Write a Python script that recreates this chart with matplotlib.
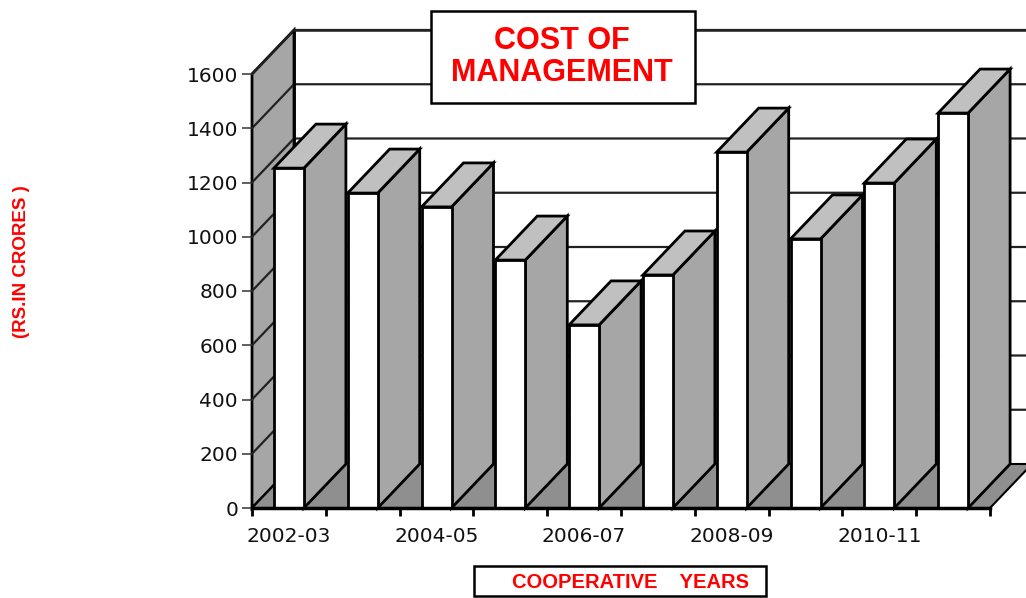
import matplotlib
matplotlib.use('Agg')
import matplotlib.pyplot as plt

years = ['2002-03', '2003-04', '2004-05', '2005-06', '2006-07',
         '2007-08', '2008-09', '2009-10', '2010-11', '2011-12']
cost = [1253, 1161, 1110, 914, 675, 859, 1312, 992, 1198, 1456]
y_ticks = [0, 200, 400, 600, 800, 1000, 1200, 1400, 1600]

W, H = 1026, 598
fig = plt.figure(figsize=(W/100, H/100), dpi=100)
# plot box in pixels: x 252-990, y 74-508
ax = fig.add_axes([252/W, 1-508/H, 738/W, 434/H])
ax.set_xlim(0, len(years))
ax.set_ylim(0, 1600)
for s in ax.spines.values():
    s.set_visible(False)
ax.patch.set_visible(False)

# 3d depth in data units
dx = 42/73.8
dy = 44/(434/1600)
n = len(years)
bar_w = 30/73.8
LW = 2.0

# left wall
ax.fill([0, dx, dx, 0], [0, dy, 1600+dy, 1600], fc='#a6a6a6', ec='black', lw=LW, clip_on=False, zorder=1)
# floor
ax.fill([0, dx, n+dx, n], [0, dy, dy, 0], fc='#8f8f8f', ec='black', lw=1.5, clip_on=False, zorder=1)
# grid on walls
for v in y_ticks[1:]:
    ax.plot([0, dx, n+dx], [v, v+dy, v+dy], color='#222222', lw=1.6, clip_on=False, zorder=2)
ax.plot([dx, dx], [dy, 1600+dy], color='black', lw=LW, clip_on=False, zorder=2)
ax.plot([dx, n+dx], [1600+dy, 1600+dy], color='#222222', lw=1.8, clip_on=False, zorder=2)

# bars
for i, v in enumerate(cost):
    left = i + 0.5 - bar_w/2
    right = left + bar_w
    z = 3 + i
    ax.fill([right, right+dx, right+dx, right], [0, dy, v+dy, v], fc='#a6a6a6', ec='black', lw=LW, clip_on=False, zorder=z, joinstyle='miter')
    ax.fill([left, left+dx, right+dx, right], [v, v+dy, v+dy, v], fc='#c0c0c0', ec='black', lw=LW, clip_on=False, zorder=z)
    ax.bar(i+0.5, v, width=bar_w, color='white', edgecolor='black', lw=LW, clip_on=False, zorder=z+0.5)

# axes lines and ticks
ax.plot([0, n], [0, 0], color='black', lw=2.5, clip_on=False, zorder=20)
ax.set_yticks(y_ticks)
ax.tick_params(axis='y', length=7, width=1.2, color='#444444', labelsize=14.5, pad=3, labelcolor='#111111')
ax.set_xticks(range(n+1))
ax.set_xticklabels([])
ax.tick_params(axis='x', which='major', length=6, width=2, color='black')
ax.set_xticks([i+0.5 for i in range(0, n, 2)], minor=True)
ax.set_xticklabels(years[0::2], minor=True, fontsize=14.5, color='#111111')
ax.tick_params(axis='x', which='minor', length=0, pad=14)

# title box
fig.text(562/W, 1-57/H, 'COST OF\nMANAGEMENT', color='red', ha='center', va='center',
         family='Liberation Sans', weight='bold', fontsize=22, linespacing=1.12, zorder=30)
fig.add_artist(plt.Rectangle((430.5/W, 1-103/H), 264/W, 92/H, fc='white', ec='black', lw=1.8, transform=fig.transFigure, zorder=25))
# x label box
fig.add_artist(plt.Rectangle((473.5/W, 1-596/H), 292/W, 30/H, fc='white', ec='black', lw=1.8, transform=fig.transFigure, zorder=25))
fig.text(631/W, 1-582/H, 'COOPERATIVE    YEARS', color='red', ha='center', va='center',
         family='Liberation Sans', weight='bold', fontsize=14.5, zorder=30)
# y label
fig.text(22/W, 1-262/H, '(RS.IN CRORES )', color='red', rotation=90, ha='center', va='center',
         family='Liberation Sans', weight='bold', fontsize=13.5)

fig.savefig('out.png', dpi=100)
